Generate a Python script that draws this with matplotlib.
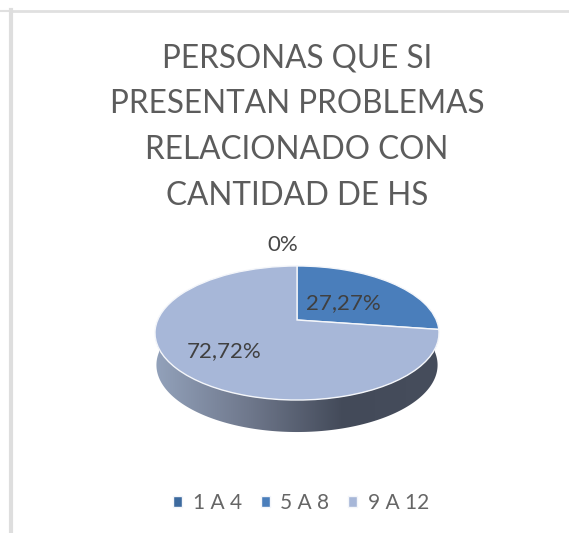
import matplotlib
matplotlib.use('Agg')
import matplotlib.pyplot as plt
from matplotlib.colors import LinearSegmentedColormap
from matplotlib.patches import Polygon
from matplotlib.transforms import Transform
import numpy as np

# Data
categories = ['1 A 4', '5 A 8', '9 A 12']
values = [0, 27.27, 72.72]
value_labels = ['0%', '27,27%', '72,72%']
colors = ['#3d6a9e', '#4a7ebb', '#a7b7d8']
title_lines = ['PERSONAS QUE SI', 'PRESENTAN PROBLEMAS', 'RELACIONADO CON', 'CANTIDAD DE HS']

plt.rcParams['font.family'] = ['Lato', 'DejaVu Sans']

# Pie geometry in screen pixels, tilted disc with a little perspective
cx, cy = 297, 320
k = 0.194
h = 64.5
a = 139.3
depth = 31


class Tilt(Transform):
    input_dims = 2
    output_dims = 2

    def transform_non_affine(self, pts):
        pts = np.asarray(pts)
        w = 1 + k * pts[:, 1]
        return np.column_stack([cx + a * pts[:, 0] / w, cy - h * pts[:, 1] / w])


fig = plt.figure(figsize=(5.69, 5.33), dpi=100)
ax = fig.add_axes([0, 0, 1, 1])
ax.set_xlim(0, 569)
ax.set_ylim(533, 0)
ax.axis('off')

# window frame of the screenshot
ax.plot([0, 9], [10.5, 10.5], color='#e0e0e0', lw=1.5)
ax.plot([11, 569], [11, 11], color='#e0e0e0', lw=2)
ax.plot([11, 11], [10, 533], color='#dedede', lw=3)

# side of the disc
tilt = Tilt()
t = np.linspace(np.pi, 2 * np.pi, 200)
rim = tilt.transform(np.column_stack([np.cos(t), np.sin(t)]))
low = rim.copy()
low[:, 0] = cx + (low[:, 0] - cx) * 0.99
low[:, 1] += depth + 1
side = Polygon(np.vstack([rim, low[::-1]]), closed=True, transform=ax.transData, fc='none', ec='none')
ax.add_patch(side)
side_cmap = LinearSegmentedColormap.from_list('side', ['#93a2bb', '#6f788c', '#434a59', '#464d5c'], N=256)
grad = ax.imshow(np.linspace(0, 1, 256)[None, :], extent=[154, 438, 440, 320], cmap=side_cmap, aspect='auto', zorder=2)
grad.set_clip_path(side)
ax.set_xlim(0, 569)
ax.set_ylim(533, 0)

# top of the disc
wedges, _ = ax.pie(values, colors=colors, startangle=90, counterclock=False, radius=1, frame=False)
for w in wedges:
    w.set_transform(tilt + ax.transData)
    w.set_edgecolor('#f4f6fa')
    w.set_linewidth(1)
    w.set_zorder(3)
ax.set_aspect('auto')
ax.set_xlim(0, 569)
ax.set_ylim(533, 0)
ax.axis('off')

# labels
ax.text(283, 245, value_labels[0], color='#484848', fontsize=16, ha='center', va='center', zorder=5)
ax.text(343, 303, value_labels[1], color='#404040', fontsize=16, ha='center', va='center', zorder=5)
ax.text(224, 351, value_labels[2], color='#404040', fontsize=16, ha='center', va='center', zorder=5)

# title
for i, line in enumerate(title_lines):
    ax.text(297, 58 + i * 46, line, color='#5c5c5c', fontsize=22.7, ha='center', va='center')

leg = ax.legend(wedges, categories, ncol=3, loc='center', bbox_to_anchor=(301 / 569, 1 - 503 / 533),
                frameon=False, fontsize=15, labelcolor='#666666', handlelength=0.45, handleheight=0.45,
                handletextpad=0.5, columnspacing=0.9)

fig.savefig('out.png', dpi=100)
